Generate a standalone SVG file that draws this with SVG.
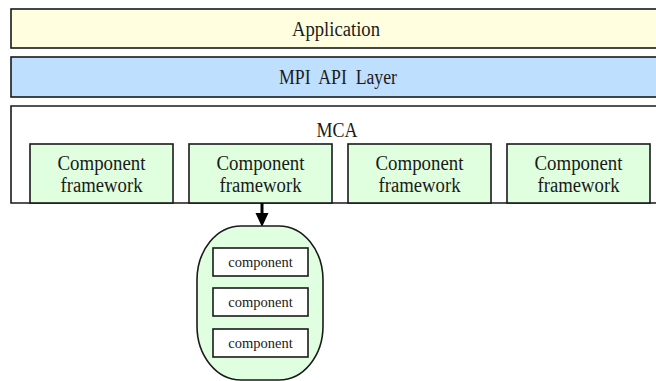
<svg xmlns="http://www.w3.org/2000/svg" width="656" height="381" viewBox="0 0 656 381">
  <defs>
    <style>
      .box { stroke: #1a1a1a; stroke-width: 1.6; }
      .lbl { font-family: "Liberation Serif", "Times New Roman", serif; font-size: 20.5px; fill: #1a1a1a; text-anchor: middle; }
      .small { font-family: "Liberation Serif", "Times New Roman", serif; font-size: 14.5px; fill: #1a1a1a; text-anchor: middle; }
      .fw { fill: #dfffdf; }
    </style>
  </defs>

  <rect width="656" height="381" fill="#ffffff"/>

  <g id="application">
    <rect class="box" x="11" y="9" width="660" height="39" fill="#ffffe0"/>
    <text class="lbl" x="336" y="36" textLength="88" lengthAdjust="spacingAndGlyphs">Application</text>
  </g>

  <g id="mpi-api-layer">
    <rect class="box" x="11" y="57" width="660" height="40" fill="#bfdfff"/>
    <text class="lbl" x="338" y="84" textLength="118" lengthAdjust="spacingAndGlyphs" word-spacing="5">MPI API Layer</text>
  </g>

  <g id="mca">
    <path class="box" d="M671,106 H11 V203 H671" fill="#ffffff"/>
    <text class="lbl" x="337" y="137" textLength="41" lengthAdjust="spacingAndGlyphs">MCA</text>
  </g>

  <g id="framework-1">
    <rect class="box fw" x="30" y="144" width="143" height="59"/>
    <text class="lbl" x="101.5" y="170" textLength="88" lengthAdjust="spacingAndGlyphs">Component</text>
    <text class="lbl" x="101.5" y="192" textLength="82" lengthAdjust="spacingAndGlyphs">framework</text>
  </g>
  <g id="framework-2">
    <rect class="box fw" x="189" y="144" width="143" height="59"/>
    <text class="lbl" x="260.5" y="170" textLength="88" lengthAdjust="spacingAndGlyphs">Component</text>
    <text class="lbl" x="260.5" y="192" textLength="82" lengthAdjust="spacingAndGlyphs">framework</text>
  </g>
  <g id="framework-3">
    <rect class="box fw" x="348" y="144" width="143" height="59"/>
    <text class="lbl" x="419.5" y="170" textLength="88" lengthAdjust="spacingAndGlyphs">Component</text>
    <text class="lbl" x="419.5" y="192" textLength="82" lengthAdjust="spacingAndGlyphs">framework</text>
  </g>
  <g id="framework-4">
    <rect class="box fw" x="507" y="144" width="143" height="59"/>
    <text class="lbl" x="578.5" y="170" textLength="88" lengthAdjust="spacingAndGlyphs">Component</text>
    <text class="lbl" x="578.5" y="192" textLength="82" lengthAdjust="spacingAndGlyphs">framework</text>
  </g>

  <g id="connectors">
    <line x1="262" y1="203" x2="262" y2="215" stroke="#000" stroke-width="3"/>
    <polygon points="255.5,213 268.5,213 262,227" fill="#000"/>
  </g>

  <g id="component-set">
    <rect class="box" x="197" y="226" width="126" height="154" rx="44" ry="54" fill="#e0ffe0"/>
    <g id="component-1">
      <rect class="box" x="213" y="248" width="95" height="28" fill="#ffffff"/>
      <text class="small" x="260.5" y="267">component</text>
    </g>
    <g id="component-2">
      <rect class="box" x="213" y="288" width="95" height="28" fill="#ffffff"/>
      <text class="small" x="260.5" y="307">component</text>
    </g>
    <g id="component-3">
      <rect class="box" x="213" y="329" width="95" height="28" fill="#ffffff"/>
      <text class="small" x="260.5" y="348">component</text>
    </g>
  </g>
</svg>
